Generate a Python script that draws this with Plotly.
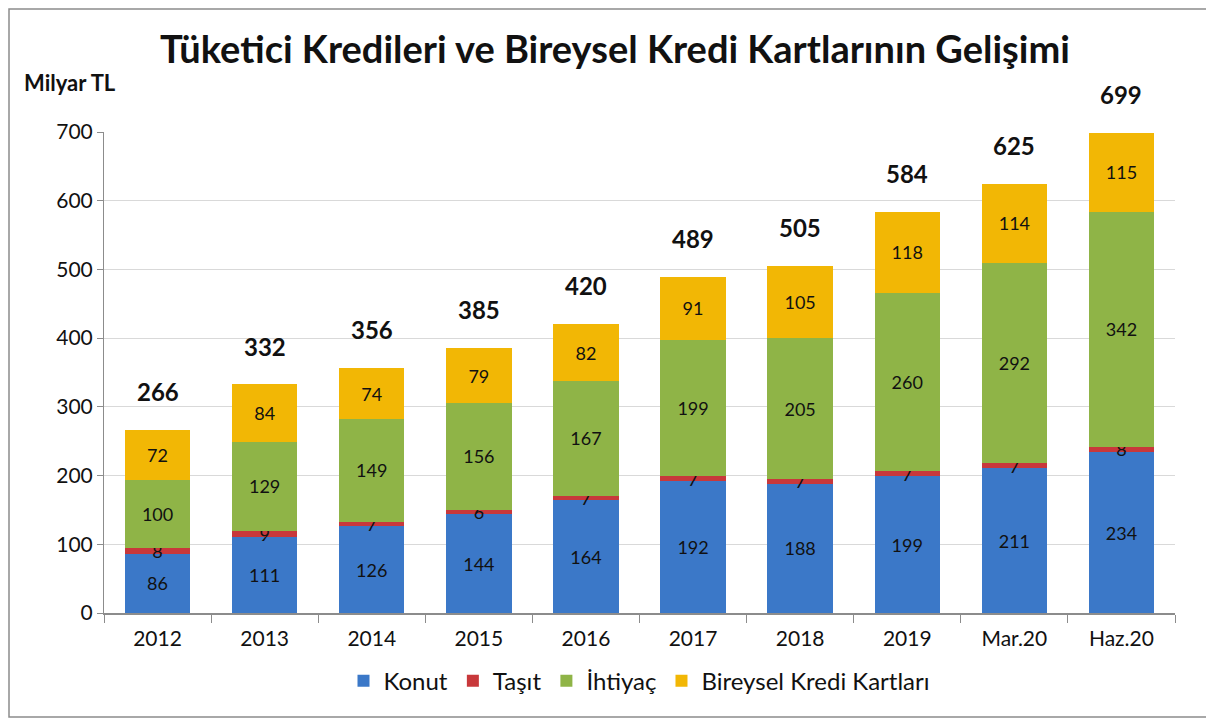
import plotly.graph_objects as go

categories = ["2012", "2013", "2014", "2015", "2016", "2017", "2018", "2019", "Mar.20", "Haz.20"]
konut = [86, 111, 126, 144, 164, 192, 188, 199, 211, 234]
tasit = [8, 9, 7, 6, 7, 7, 7, 7, 7, 8]
ihtiyac = [100, 129, 149, 156, 167, 199, 205, 260, 292, 342]
kart = [72, 84, 74, 79, 82, 91, 105, 118, 114, 115]
totals = [266, 332, 356, 385, 420, 489, 505, 584, 625, 699]

series = [
    ("Konut", konut, "#3B78C8"),
    ("Taşıt", tasit, "#C8383B"),
    ("İhtiyaç", ihtiyac, "#8FB447"),
    ("Bireysel Kredi Kartları", kart, "#F2B705"),
]

FONT = "Lato"

fig = go.Figure()
for name, vals, color in series:
    fig.add_trace(go.Bar(
        x=categories, y=vals, name=name,
        marker=dict(color=color, line=dict(width=0)),
        text=vals, texttemplate="%{text}",
        textposition="inside", insidetextanchor="middle", textangle=0,
        constraintext="none", cliponaxis=False,
        textfont=dict(family=FONT, size=18, color="#111111"),
        hovertemplate="%{x}<br>" + name + ": %{y}<extra></extra>",
    ))

# total labels above each stack (x given as category index so "2013" etc. isn't read as a number)
for i, tot in enumerate(totals):
    fig.add_annotation(
        x=i, y=tot, text="<b>%d</b>" % tot, showarrow=False,
        yanchor="bottom", yshift=22,
        font=dict(family=FONT, size=24, color="#111111"),
    )

fig.add_annotation(
    xref="paper", yref="paper", x=-0.077, y=1.07, xanchor="left", yanchor="bottom",
    text="<b>Milyar TL</b>", showarrow=False,
    font=dict(family=FONT, size=22, color="#111111"),
)

# outer frame of the chart area (kept just inside the figure so it isn't clipped)
fig.add_shape(
    type="rect", xref="paper", yref="paper",
    x0=-0.0887, x1=1.0317, y0=-0.216, y1=1.2557,
    line=dict(color="#8C8C8C", width=1.5), fillcolor="rgba(0,0,0,0)", layer="below",
)

# page body adds ~8px offset, so margins are shifted up/left to compensate
fig.update_layout(
    width=1214, height=720,
    barmode="stack", bargap=0.39,
    margin=dict(l=96, r=47, t=124, b=115),
    paper_bgcolor="white", plot_bgcolor="white",
    title=dict(
        text="<b>Tüketici Kredileri ve Bireysel Kredi Kartlarının Gelişimi</b>",
        x=0.5, xanchor="center", y=0.942, yanchor="middle",
        font=dict(family=FONT, size=38, color="#111111"),
    ),
    legend=dict(
        orientation="h", x=0.5, xanchor="center", y=-0.095, yanchor="top",
        font=dict(family=FONT, size=24, color="#111111"),
        itemwidth=30, traceorder="normal", bgcolor="rgba(0,0,0,0)",
    ),
    font=dict(family=FONT, color="#111111"),
)

fig.update_yaxes(
    range=[0, 700], dtick=100, showgrid=True, gridcolor="#D9D9D9", gridwidth=1,
    showline=True, linecolor="#8C8C8C", linewidth=1,
    ticks="outside", ticklen=6, tickcolor="#8C8C8C",
    tickfont=dict(family=FONT, size=21, color="#111111"), zeroline=False,
)
fig.update_xaxes(
    type="category", range=[-0.5, len(categories) - 0.5],
    showline=True, linecolor="#8C8C8C", linewidth=1.5,
    ticks="outside", ticklen=8, tickcolor="#8C8C8C", tickson="boundaries",
    ticklabelstandoff=6,
    tickfont=dict(family=FONT, size=21, color="#111111"),
)

fig.write_html("out.html")
